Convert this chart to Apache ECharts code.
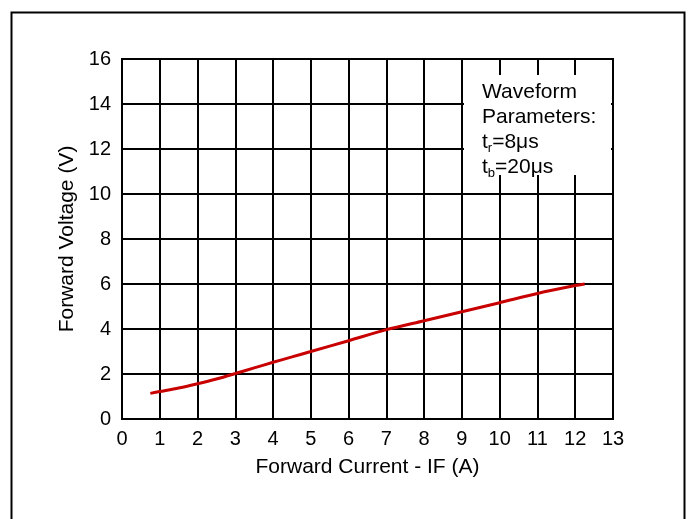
<!DOCTYPE html>
<html>
<head>
<meta charset="utf-8">
<script src="https://cdn.jsdelivr.net/npm/echarts@6/dist/echarts.min.js"></script>
<style>
  html, body { margin: 0; padding: 0; background: #fff; }
  #chart { width: 691px; height: 519px; }
</style>
</head>
<body>
<div id="chart"></div>
<script>
var currentA = [0.75, 1, 1.5, 2, 2.5, 3, 3.5, 4, 4.5, 5, 6, 7, 8, 9, 10, 11, 12, 12.25];
var voltageV = [1.14, 1.22, 1.38, 1.57, 1.78, 2.02, 2.27, 2.52, 2.76, 3.0, 3.48, 3.97, 4.37, 4.77, 5.17, 5.58, 5.93, 6.0];
var xTicks = { min: 0, max: 13, interval: 1 };
var yTicks = { min: 0, max: 16, interval: 2 };

(function() {
  var font = '"Liberation Sans", Arial, Helvetica, sans-serif';
  var chart = echarts.init(document.getElementById('chart'), null, { renderer: 'canvas' });

  var points = currentA.map(function(x, i) { return [x, voltageV[i]]; });

  chart.setOption({
    animation: false,
    backgroundColor: '#fff',
    grid: {
      left: 122, right: 78, top: 59, bottom: 100,
      show: true, borderColor: '#000', borderWidth: 2, backgroundColor: 'transparent'
    },
    xAxis: {
      type: 'value',
      min: xTicks.min, max: xTicks.max, interval: xTicks.interval,
      name: 'Forward Current - IF (A)',
      nameLocation: 'middle',
      nameGap: 38,
      nameTextStyle: { color: '#000', fontSize: 21, fontFamily: font },
      axisLine: { show: true, lineStyle: { color: '#000', width: 2 } },
      axisTick: { show: false },
      axisLabel: { color: '#000', fontSize: 20, fontFamily: font, margin: 10 },
      splitLine: { show: true, lineStyle: { color: '#000', width: 2 } }
    },
    yAxis: {
      type: 'value',
      min: yTicks.min, max: yTicks.max, interval: yTicks.interval,
      name: 'Forward Voltage (V)',
      nameLocation: 'middle',
      nameGap: 39,
      nameTextStyle: { color: '#000', fontSize: 21, fontFamily: font },
      axisLine: { show: true, lineStyle: { color: '#000', width: 2 } },
      axisTick: { show: false },
      axisLabel: { color: '#000', fontSize: 20, fontFamily: font, margin: 11 },
      splitLine: { show: true, lineStyle: { color: '#000', width: 2 } }
    },
    series: [{
      type: 'line',
      data: points,
      smooth: 0.3,
      showSymbol: false,
      lineStyle: { color: '#c80000', width: 3 },
      z: 3
    }],
    graphic: [
      {
        type: 'rect',
        left: 9, top: 10,
        shape: { width: 673, height: 530 },
        style: { fill: 'none', stroke: '#000', lineWidth: 2 },
        silent: true
      },
      {
        type: 'rect',
        left: 464, top: 75,
        shape: { width: 147, height: 100 },
        style: { fill: '#fff' },
        z: 10
      },
      {
        type: 'text',
        left: 482, top: 80,
        z: 11,
        style: {
          text: 'Waveform\nParameters:\n{t|t}{s|r}{t|=8μs}\n{t|t}{s|b}{t|=20μs}',
          fill: '#000',
          font: '21px ' + font,
          lineHeight: 25,
          rich: {
            t: { fontSize: 21, fontFamily: font, fill: '#000', lineHeight: 25 },
            s: { fontSize: 13, fontFamily: font, fill: '#000', verticalAlign: 'bottom', padding: [8, 0, 0, 0], lineHeight: 25 }
          }
        }
      }
    ]
  });

  window.addEventListener('resize', function() { chart.resize(); });
})();
</script>
</body>
</html>
